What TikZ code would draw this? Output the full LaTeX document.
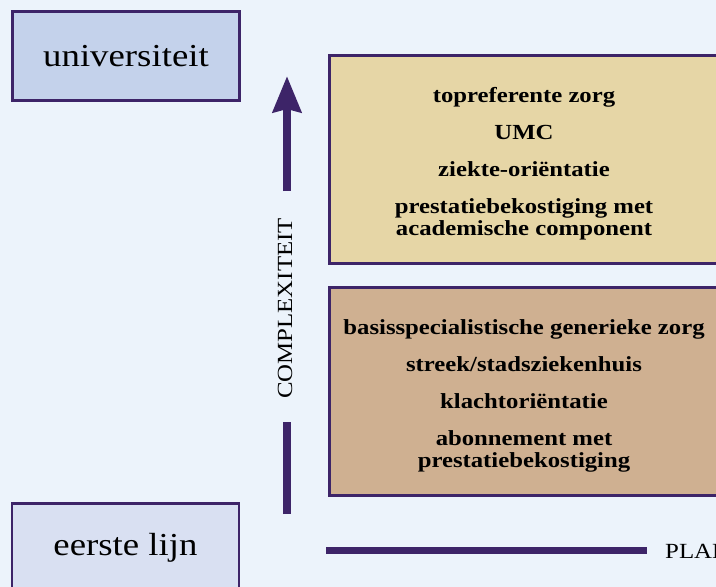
\documentclass[tikz,border=0pt]{standalone}
\usepackage{fontspec}
\setmainfont{Liberation Serif}[FakeStretch=1.15]
\usetikzlibrary{arrows.meta}
\definecolor{bg}{HTML}{ECF3FB}
\definecolor{ink}{HTML}{3D2468}
\definecolor{unifill}{HTML}{C4D2EB}
\definecolor{eerstefill}{HTML}{D9E0F2}
\definecolor{topfill}{HTML}{E6D6A6}
\definecolor{basefill}{HTML}{CFB091}
\begin{document}
\begin{tikzpicture}[x=1pt,y=-1pt,
  levelbox/.style={draw=ink, line width=2.6pt, fill=#1, minimum width=227pt, minimum height=89pt, inner sep=0pt, font=\fontsize{32}{38}\selectfont},
  carebox/.style={draw=ink, line width=2.6pt, fill=#1, minimum width=389pt, minimum height=208pt, inner sep=0pt},
  caretext/.style={align=center, inner sep=0pt, font=\fontsize{21.5}{22}\selectfont\bfseries},
  axisline/.style={draw=ink, line width=8pt},
  axislabel/.style={font=\fontsize{21.6}{24}\selectfont, inner sep=0pt}]
\useasboundingbox (0,0) rectangle (716,587);
\clip (0,0) rectangle (716,587);
\fill[bg] (0,0) rectangle (716,587);

% level boxes
\node[levelbox=unifill] (uni) at (126,56) {universiteit};
\node[levelbox=eerstefill] (eerste) at (125.5,548) {eerste lijn};

% care boxes
\node[carebox=topfill] (top) at (524,159.5) {};
\node[caretext] (toptext) at ([yshift=-4.5pt]top.center) {topreferente zorg\\[15pt]UMC\\[15pt]ziekte-oriëntatie\\[15pt]prestatiebekostiging met\\academische component};
\node[carebox=basefill] (base) at (524,391.5) {};
\node[caretext] (basetext) at ([yshift=-4.5pt]base.center) {basisspecialistische generieke zorg\\[15pt]streek/stadsziekenhuis\\[15pt]klachtoriëntatie\\[15pt]abonnement met\\prestatiebekostiging};

% vertical axis
\coordinate (vlow) at (287,514);
\coordinate (vgaplow) at (287,422);
\coordinate (vgaphigh) at (287,191);
\coordinate (vtip) at (287,76);
\draw[axisline] (vlow) -- (vgaplow);
\draw[axisline, -{Stealth[length=36pt, width=28pt, inset=3pt]}] (vgaphigh) -- (vtip);
\node[axislabel, rotate=90] (complex) at (285,308.5) {COMPLEXITEIT};

% horizontal axis
\coordinate (hleft) at (326,550.5);
\coordinate (hright) at (647,550.5);
\draw[axisline, line width=7pt] (hleft) -- (hright);
\node[axislabel, anchor=base west] (plan) at (665,558) {PLAN};
\end{tikzpicture}
\end{document}
